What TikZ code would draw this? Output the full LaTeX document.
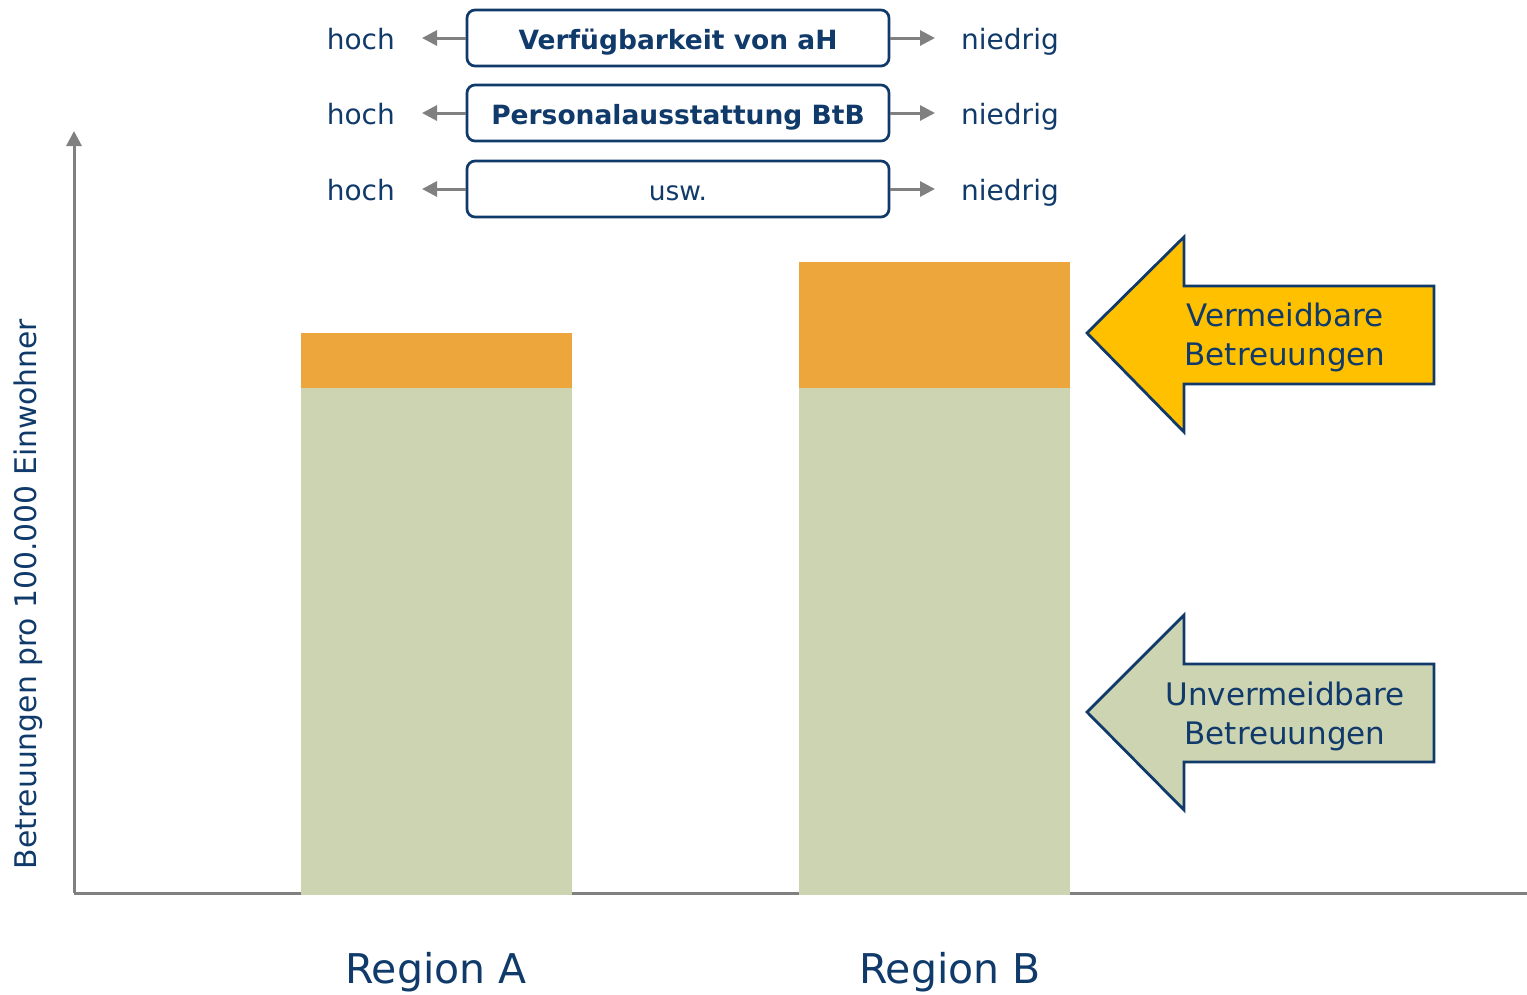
\documentclass[tikz,border=0pt]{standalone}
\usepackage{fontspec}
\setmainfont{DejaVu Sans}
\usetikzlibrary{arrows.meta,positioning}
\definecolor{navy}{RGB}{16,58,106}
\definecolor{axisgray}{RGB}{128,128,128}
\definecolor{barorange}{RGB}{237,166,59}
\definecolor{bargreen}{RGB}{204,212,178}
\definecolor{arrowyellow}{RGB}{255,192,0}
\tikzset{
	factorbox/.style={draw=navy,line width=2.7pt,rounded corners=8pt,minimum width=422pt,minimum height=56pt,text height=22pt,text depth=0pt,text=navy,font=\fontsize{26.5}{30}\selectfont},
	sidelabel/.style={text=navy,font=\fontsize{28}{32}\selectfont,inner sep=0pt},
	grayarrow/.style={draw=axisgray,fill=axisgray,line width=3pt,-{Triangle[length=15pt,width=15pt]}},
	bigarrow/.style={draw=navy,line width=2.8pt,line join=miter},
	arrowtext/.style={text=navy,font=\fontsize{31}{39}\selectfont,align=center}
}
\begin{document}
\begin{tikzpicture}[x=1pt,y=-1pt]
		\useasboundingbox (0,0) rectangle (1527,994);
		% axes
		\coordinate (origin) at (74,893);
		\coordinate (ytop) at (74,131);
		\coordinate (xend) at (1527,893);
		\draw[grayarrow] (origin) -- (ytop);
		\draw[draw=axisgray,line width=3pt] (origin) -- (xend);
		\node[text=navy,font=\fontsize{29.8}{32}\selectfont,rotate=90] (ylabel) at (28,594) {Betreuungen pro 100.000 Einwohner};
		
		% bars
		\fill[bargreen] (301,388) rectangle (572,895);
		\fill[barorange] (301,333) rectangle (572,388);
		\fill[bargreen] (799,388) rectangle (1070,895);
		\fill[barorange] (799,262) rectangle (1070,388);
		\node[text=navy,font=\fontsize{41}{46}\selectfont,anchor=base] (regionA) at (436,983) {Region A};
		\node[text=navy,font=\fontsize{41}{46}\selectfont,anchor=base] (regionB) at (950,983) {Region B};
		
		% factors
		\foreach \i/\y/\txt in {1/38/{\textbf{Verfügbarkeit von aH}},2/113/{\textbf{Personalausstattung BtB}},3/189/{usw.}}
		{
		\node[factorbox] (factor\i) at (678,\y) {\txt};
		\node[sidelabel,anchor=base east] (hoch\i) at (395,\y+11) {hoch};
		\node[sidelabel,anchor=base west] (niedrig\i) at (961,\y+11) {niedrig};
		\draw[grayarrow,shorten >=27pt] (factor\i.west) -- (factor\i.west -| hoch\i.east);
		\draw[grayarrow,shorten >=26pt] (factor\i.east) -- (factor\i.east -| niedrig\i.west);
		}
		
		% big arrows
		\filldraw[bigarrow,fill=arrowyellow] (1087,333) -- (1184,237) -- (1184,286) -- (1434,286) -- (1434,384) -- (1184,384) -- (1184,432) -- cycle;
		\node[arrowtext] (avoidable) at (1285,337) {Vermeidbare\\Betreuungen};
		\filldraw[bigarrow,fill=bargreen] (1087,712) -- (1184,615) -- (1184,664) -- (1434,664) -- (1434,762) -- (1184,762) -- (1184,810) -- cycle;
		\node[arrowtext] (unavoidable) at (1285,716) {Unvermeidbare\\Betreuungen};
\end{tikzpicture}
\end{document}
